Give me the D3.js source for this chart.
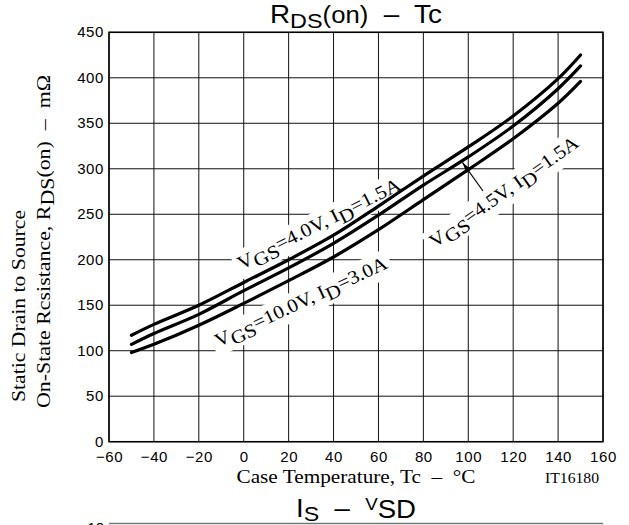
<!DOCTYPE html>
<html>
<head>
<meta charset="utf-8">
<script src="https://cdn.jsdelivr.net/npm/d3@7"></script>
<style>
  html,body{margin:0;padding:0;background:#fff;}
  svg{display:block;}
  svg text{white-space:pre;}
</style>
</head>
<body>
<svg id="chart" width="629" height="525"></svg>
<script>
// ---- data ----
const temps   = [-50, -40, -20, 0, 20, 40, 60, 80, 100, 120, 140, 150];
const rdsVgs40 = [117, 129, 150, 175, 200, 227, 259, 292, 324, 358, 399, 425];
const rdsVgs45 = [107, 119, 140, 166, 191, 218, 249, 282, 313, 347, 388, 413];
const rdsVgs100 = [98, 107, 128, 152, 177, 203, 233, 266, 299, 333, 372, 396];
const xTicks = [-60, -40, -20, 0, 20, 40, 60, 80, 100, 120, 140, 160];
const yTicks = [0, 50, 100, 150, 200, 250, 300, 350, 400, 450];

const svg = d3.select("#chart");
const L = 109, R = 603, T = 32.3, B = 441.7;
const x = d3.scaleLinear().domain([-60, 160]).range([L, R]);
const y = d3.scaleLinear().domain([0, 450]).range([B, T]);

const sans = "'Liberation Sans', Arial, Helvetica, sans-serif";
const serif = "'Liberation Serif', 'Times New Roman', serif";

// grid
const grid = svg.append("g");
grid.selectAll("line.v").data(xTicks).join("line")
  .attr("x1", d => x(d)).attr("x2", d => x(d)).attr("y1", T).attr("y2", B)
  .attr("stroke", "#111").attr("stroke-width", 1);
grid.selectAll("line.h").data(yTicks).join("line")
  .attr("y1", d => y(d)).attr("y2", d => y(d)).attr("x1", L).attr("x2", R)
  .attr("stroke", "#111").attr("stroke-width", 1);

// axes labels via d3 axes
const xAxis = svg.append("g").attr("transform", `translate(0,${B})`)
  .call(d3.axisBottom(x).tickValues(xTicks).tickSize(0).tickPadding(10));
const yAxis = svg.append("g").attr("transform", `translate(${L},0)`)
  .call(d3.axisLeft(y).tickValues(yTicks).tickSize(0).tickPadding(5));
[xAxis, yAxis].forEach(a => {
  a.select(".domain").remove();
  a.selectAll("text").attr("font-family", sans).attr("font-size", 15)
    .attr("fill", "#000").attr("letter-spacing", 0.6);
});
yAxis.selectAll("text").attr("dy", "0.3em");

// labels (white-backed)
function label(cx, cy, ang, len, parts) {
  const g = svg.append("g").attr("transform", `translate(${cx},${cy}) rotate(${ang})`);
  g.append("rect").attr("x", -len / 2 - 4).attr("y", -13).attr("width", len + 8).attr("height", 28)
    .attr("fill", "#fff");
  const t = g.append("text").attr("text-anchor", "middle").attr("y", 6)
    .attr("font-family", serif).attr("font-size", 19).attr("fill", "#000")
    .attr("textLength", len).attr("lengthAdjust", "spacingAndGlyphs");
  parts.forEach(p => {
    t.append("tspan").attr("dy", p[1]).text(p[0]);
  });
}
label(319, 224, -26.8, 180, [["V", 0], ["GS", 5], ["=4.0V, I", -5], ["D", 5], ["=1.5A", -5]]);
label(301, 302, -25, 188, [["V", 0], ["GS", 5], ["=10.0V, I", -5], ["D", 5], ["=3.0A", -5]]);
label(504, 192, -35.3, 178, [["V", 0], ["GS", 5], ["=4.5V, I", -5], ["D", 5], ["=1.5A", -5]]);

// curves
const line = d3.line().x((d, i) => x(temps[i])).y(d => y(d)).curve(d3.curveCatmullRom.alpha(0.5));
[rdsVgs40, rdsVgs45, rdsVgs100].forEach(s => {
  svg.append("path").attr("d", line(s)).attr("fill", "none")
    .attr("stroke", "#000").attr("stroke-width", 3.2).attr("stroke-linecap", "round");
});

// arrow for VGS=4.5V
const ax1 = 483, ay1 = 191, ax2 = x(97.4), ay2 = y(307);
svg.append("line").attr("x1", ax1).attr("y1", ay1).attr("x2", ax2).attr("y2", ay2)
  .attr("stroke", "#000").attr("stroke-width", 1.2);
{
  const ang = Math.atan2(ay2 - ay1, ax2 - ax1);
  const len = 11, w = 3;
  const bx = ax2 - len * Math.cos(ang), by = ay2 - len * Math.sin(ang);
  const px = -Math.sin(ang) * w, py = Math.cos(ang) * w;
  svg.append("path").attr("d", `M${ax2},${ay2}L${bx + px},${by + py}L${bx - px},${by - py}Z`)
    .attr("fill", "#000");
}

// frame
svg.append("rect").attr("x", L).attr("y", T).attr("width", R - L).attr("height", B - T)
  .attr("fill", "none").attr("stroke", "#000").attr("stroke-width", 1.5);

// title
const title = svg.append("text").attr("x", 356).attr("y", 23).attr("text-anchor", "middle")
  .attr("font-family", sans).attr("fill", "#000")
  .attr("textLength", 172).attr("lengthAdjust", "spacingAndGlyphs");
title.append("tspan").attr("font-size", 25).text("R");
title.append("tspan").attr("font-size", 21).attr("dy", 5).text("DS");
title.append("tspan").attr("font-size", 23).attr("dy", -5).text("(on)");
title.append("tspan").attr("font-size", 25).text("  \u2013  Tc");

// x title
svg.append("text").attr("x", 356).attr("y", 483).attr("text-anchor", "middle")
  .attr("font-family", serif).attr("font-size", 18).attr("fill", "#000")
  .attr("textLength", 239).attr("lengthAdjust", "spacingAndGlyphs")
  .text("Case Temperature, Tc  \u2013  \u00B0C");
svg.append("text").attr("x", 572).attr("y", 483).attr("text-anchor", "middle")
  .attr("font-family", serif).attr("font-size", 15).attr("fill", "#000")
  .attr("textLength", 54).attr("lengthAdjust", "spacingAndGlyphs")
  .text("IT16180");

// y title
svg.append("text").attr("transform", "translate(25,306) rotate(-90)").attr("text-anchor", "middle")
  .attr("font-family", serif).attr("font-size", 18.5).attr("fill", "#000")
  .attr("textLength", 192).attr("lengthAdjust", "spacingAndGlyphs")
  .text("Static Drain to Source");
{
  const t = svg.append("text").attr("transform", "translate(50,241.5) rotate(-90)").attr("text-anchor", "middle")
    .attr("font-family", serif).attr("font-size", 18.5).attr("fill", "#000")
    .attr("textLength", 333).attr("lengthAdjust", "spacingAndGlyphs");
  t.append("tspan").text("On-State Rcsistance, R");
  t.append("tspan").attr("dy", 4).text("DS");
  t.append("tspan").attr("dy", -4).text("(on)  \u2013  m\u03A9");
}

// next chart (partially visible)
const t2 = svg.append("text").attr("x", 356).attr("y", 517).attr("text-anchor", "middle")
  .attr("font-family", sans).attr("fill", "#000")
  .attr("textLength", 120).attr("lengthAdjust", "spacingAndGlyphs");
t2.append("tspan").attr("font-size", 25).text("I");
t2.append("tspan").attr("font-size", 21).attr("dy", 4).text("S");
t2.append("tspan").attr("font-size", 25).attr("dy", -4).text("  \u2013  ");
t2.append("tspan").attr("font-size", 17).attr("dy", -7).text("V");
t2.append("tspan").attr("font-size", 25).attr("dy", 8).text("SD");
svg.append("line").attr("x1", L).attr("x2", R).attr("y1", 523.5).attr("y2", 523.5)
  .attr("stroke", "#777").attr("stroke-width", 1.5);
svg.append("text").attr("x", 104).attr("y", 533).attr("text-anchor", "end")
  .attr("font-family", sans).attr("font-size", 15).attr("fill", "#000").text("10");
</script>
</body>
</html>
